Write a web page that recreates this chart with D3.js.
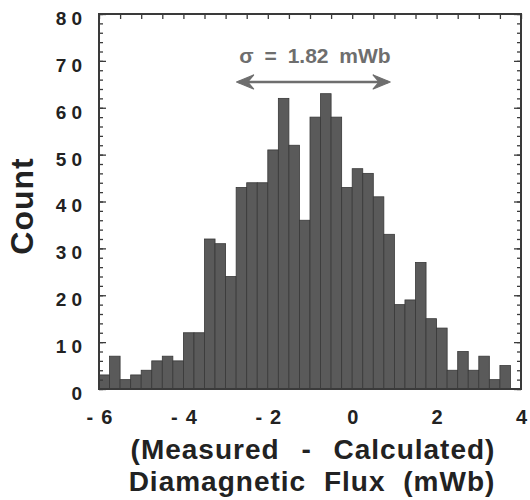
<!DOCTYPE html>
<html>
<head>
<meta charset="utf-8">
<script src="https://cdn.jsdelivr.net/npm/d3@7"></script>
<style>
  body { margin: 0; background: #fff; }
  svg { display: block; }
  text { font-family: "Liberation Sans", Arial, Helvetica, sans-serif; font-weight: bold; }
</style>
</head>
<body>
<svg width="530" height="500"></svg>
<script>
// histogram bins: left edge of each 0.25 mWb bin, from -6 to 4
var binWidth = 0.25;
var binStarts = d3.range(-6, 4, binWidth);
var counts = [3, 7, 2, 3, 4, 6, 7, 6, 12, 12,
              32, 31, 24, 43, 44, 44, 51, 62, 52, 36,
              58, 63, 58, 43, 47, 46, 41, 33, 18, 19,
              27, 15, 13, 4, 8, 4, 7, 2, 5, 0];
var xTicks = [-6, -4, -2, 0, 2, 4];
var yTicks = [0, 10, 20, 30, 40, 50, 60, 70, 80];
var meanVal = -0.92;
var sigma = 1.82;

var svg = d3.select('svg');
var x = d3.scaleLinear().domain([-6, 4]).range([99, 521]);
var y = d3.scaleLinear().domain([0, 80]).range([389, 14]);

var ink = '#222';
var frameCol = '#3a3a3a';

// bars
svg.append('g')
  .selectAll('rect')
  .data(counts)
  .enter()
  .append('rect')
  .attr('x', function(d, i) { return x(binStarts[i]); })
  .attr('y', function(d) { return y(d); })
  .attr('width', function(d, i) { return x(binStarts[i] + binWidth) - x(binStarts[i]); })
  .attr('height', function(d) { return y(0) - y(d); })
  .style('fill', '#5a5a5a')
  .style('stroke', '#383838')
  .style('stroke-width', 0.8);

// minor ticks (inward) on left, right and top
var minorY = d3.range(0, 81, 2);
var minorX = d3.range(-6, 4.01, 0.5);

function tickStyle(g) {
  g.select('.domain').remove();
  g.selectAll('line').style('stroke', frameCol).style('stroke-width', 1.3);
  g.selectAll('text').remove();
}

svg.append('g').attr('transform', 'translate(99,0)')
  .call(d3.axisLeft(y).tickValues(minorY).tickSize(-4)).call(tickStyle);
svg.append('g').attr('transform', 'translate(99,0)')
  .call(d3.axisLeft(y).tickValues(yTicks).tickSize(-7)).call(tickStyle);
svg.append('g').attr('transform', 'translate(521,0)')
  .call(d3.axisRight(y).tickValues(minorY).tickSize(-4)).call(tickStyle);
svg.append('g').attr('transform', 'translate(521,0)')
  .call(d3.axisRight(y).tickValues(yTicks).tickSize(-7)).call(tickStyle);
svg.append('g').attr('transform', 'translate(0,14)')
  .call(d3.axisTop(x).tickValues(minorX).tickSize(-5)).call(tickStyle);

// frame
svg.append('rect')
  .attr('x', x(-6)).attr('y', y(80))
  .attr('width', x(4) - x(-6)).attr('height', y(0) - y(80))
  .style('fill', 'none').style('stroke', frameCol).style('stroke-width', 2);

// tick labels
var yAxis = svg.append('g').attr('transform', 'translate(99,0)')
  .call(d3.axisLeft(y).tickValues(yTicks).tickSize(0).tickPadding(12));
yAxis.select('.domain').remove();
yAxis.selectAll('text')
  .attr('dy', '0.55em')
  .style('font-size', '19px')
  .style('letter-spacing', '5px')
  .style('fill', ink);

var xAxis = svg.append('g').attr('transform', 'translate(0,389)')
  .call(d3.axisBottom(x).tickValues(xTicks).tickSize(0).tickPadding(28)
    .tickFormat(function(d) { return d < 0 ? '-\u2009' + Math.abs(d) : String(d); }));
xAxis.select('.domain').remove();
xAxis.selectAll('text')
  .attr('dy', '0.35em')
  .attr('dx', 1)
  .style('font-size', '20px')
  .style('letter-spacing', '2px')
  .style('fill', ink);

// axis titles
svg.append('text')
  .attr('transform', 'translate(33,206) rotate(-90)')
  .attr('text-anchor', 'middle')
  .style('font-size', '32px')
  .style('letter-spacing', '1px')
  .style('fill', ink)
  .text('Count');

svg.append('text')
  .attr('x', 313).attr('y', 459)
  .attr('text-anchor', 'middle')
  .style('font-size', '28px')
  .style('letter-spacing', '1px')
  .style('word-spacing', '13px')
  .style('fill', ink)
  .text('(Measured - Calculated)');

svg.append('text')
  .attr('x', 312).attr('y', 490.5)
  .attr('text-anchor', 'middle')
  .style('font-size', '28px')
  .style('letter-spacing', '1px')
  .style('word-spacing', '9px')
  .style('fill', ink)
  .text('Diamagnetic Flux (mWb)');

// sigma annotation
var grey = '#6e6e6e';
var x0 = x(meanVal - sigma), x1 = x(meanVal + sigma), ya = 82;

svg.append('text')
  .attr('x', 315).attr('y', 63)
  .attr('text-anchor', 'middle')
  .style('font-size', '21px')
  .style('word-spacing', '5px')
  .style('fill', grey)
  .text('\u03c3 = 1.82 mWb');

svg.append('line')
  .attr('x1', x0 + 2).attr('x2', x1 - 2).attr('y1', ya).attr('y2', ya)
  .style('stroke', grey).style('stroke-width', 2.5);

var head = d3.line();
[[x0, 1], [x1, -1]].forEach(function(h) {
  var tip = h[0], dir = h[1];
  svg.append('path')
    .attr('d', head([[tip + dir * 17, ya - 7], [tip, ya], [tip + dir * 17, ya + 7], [tip + dir * 11, ya]]) + 'Z')
    .style('fill', grey)
    .style('stroke', grey)
    .style('stroke-width', 1.2)
    .style('stroke-linejoin', 'round');
});
</script>
</body>
</html>
